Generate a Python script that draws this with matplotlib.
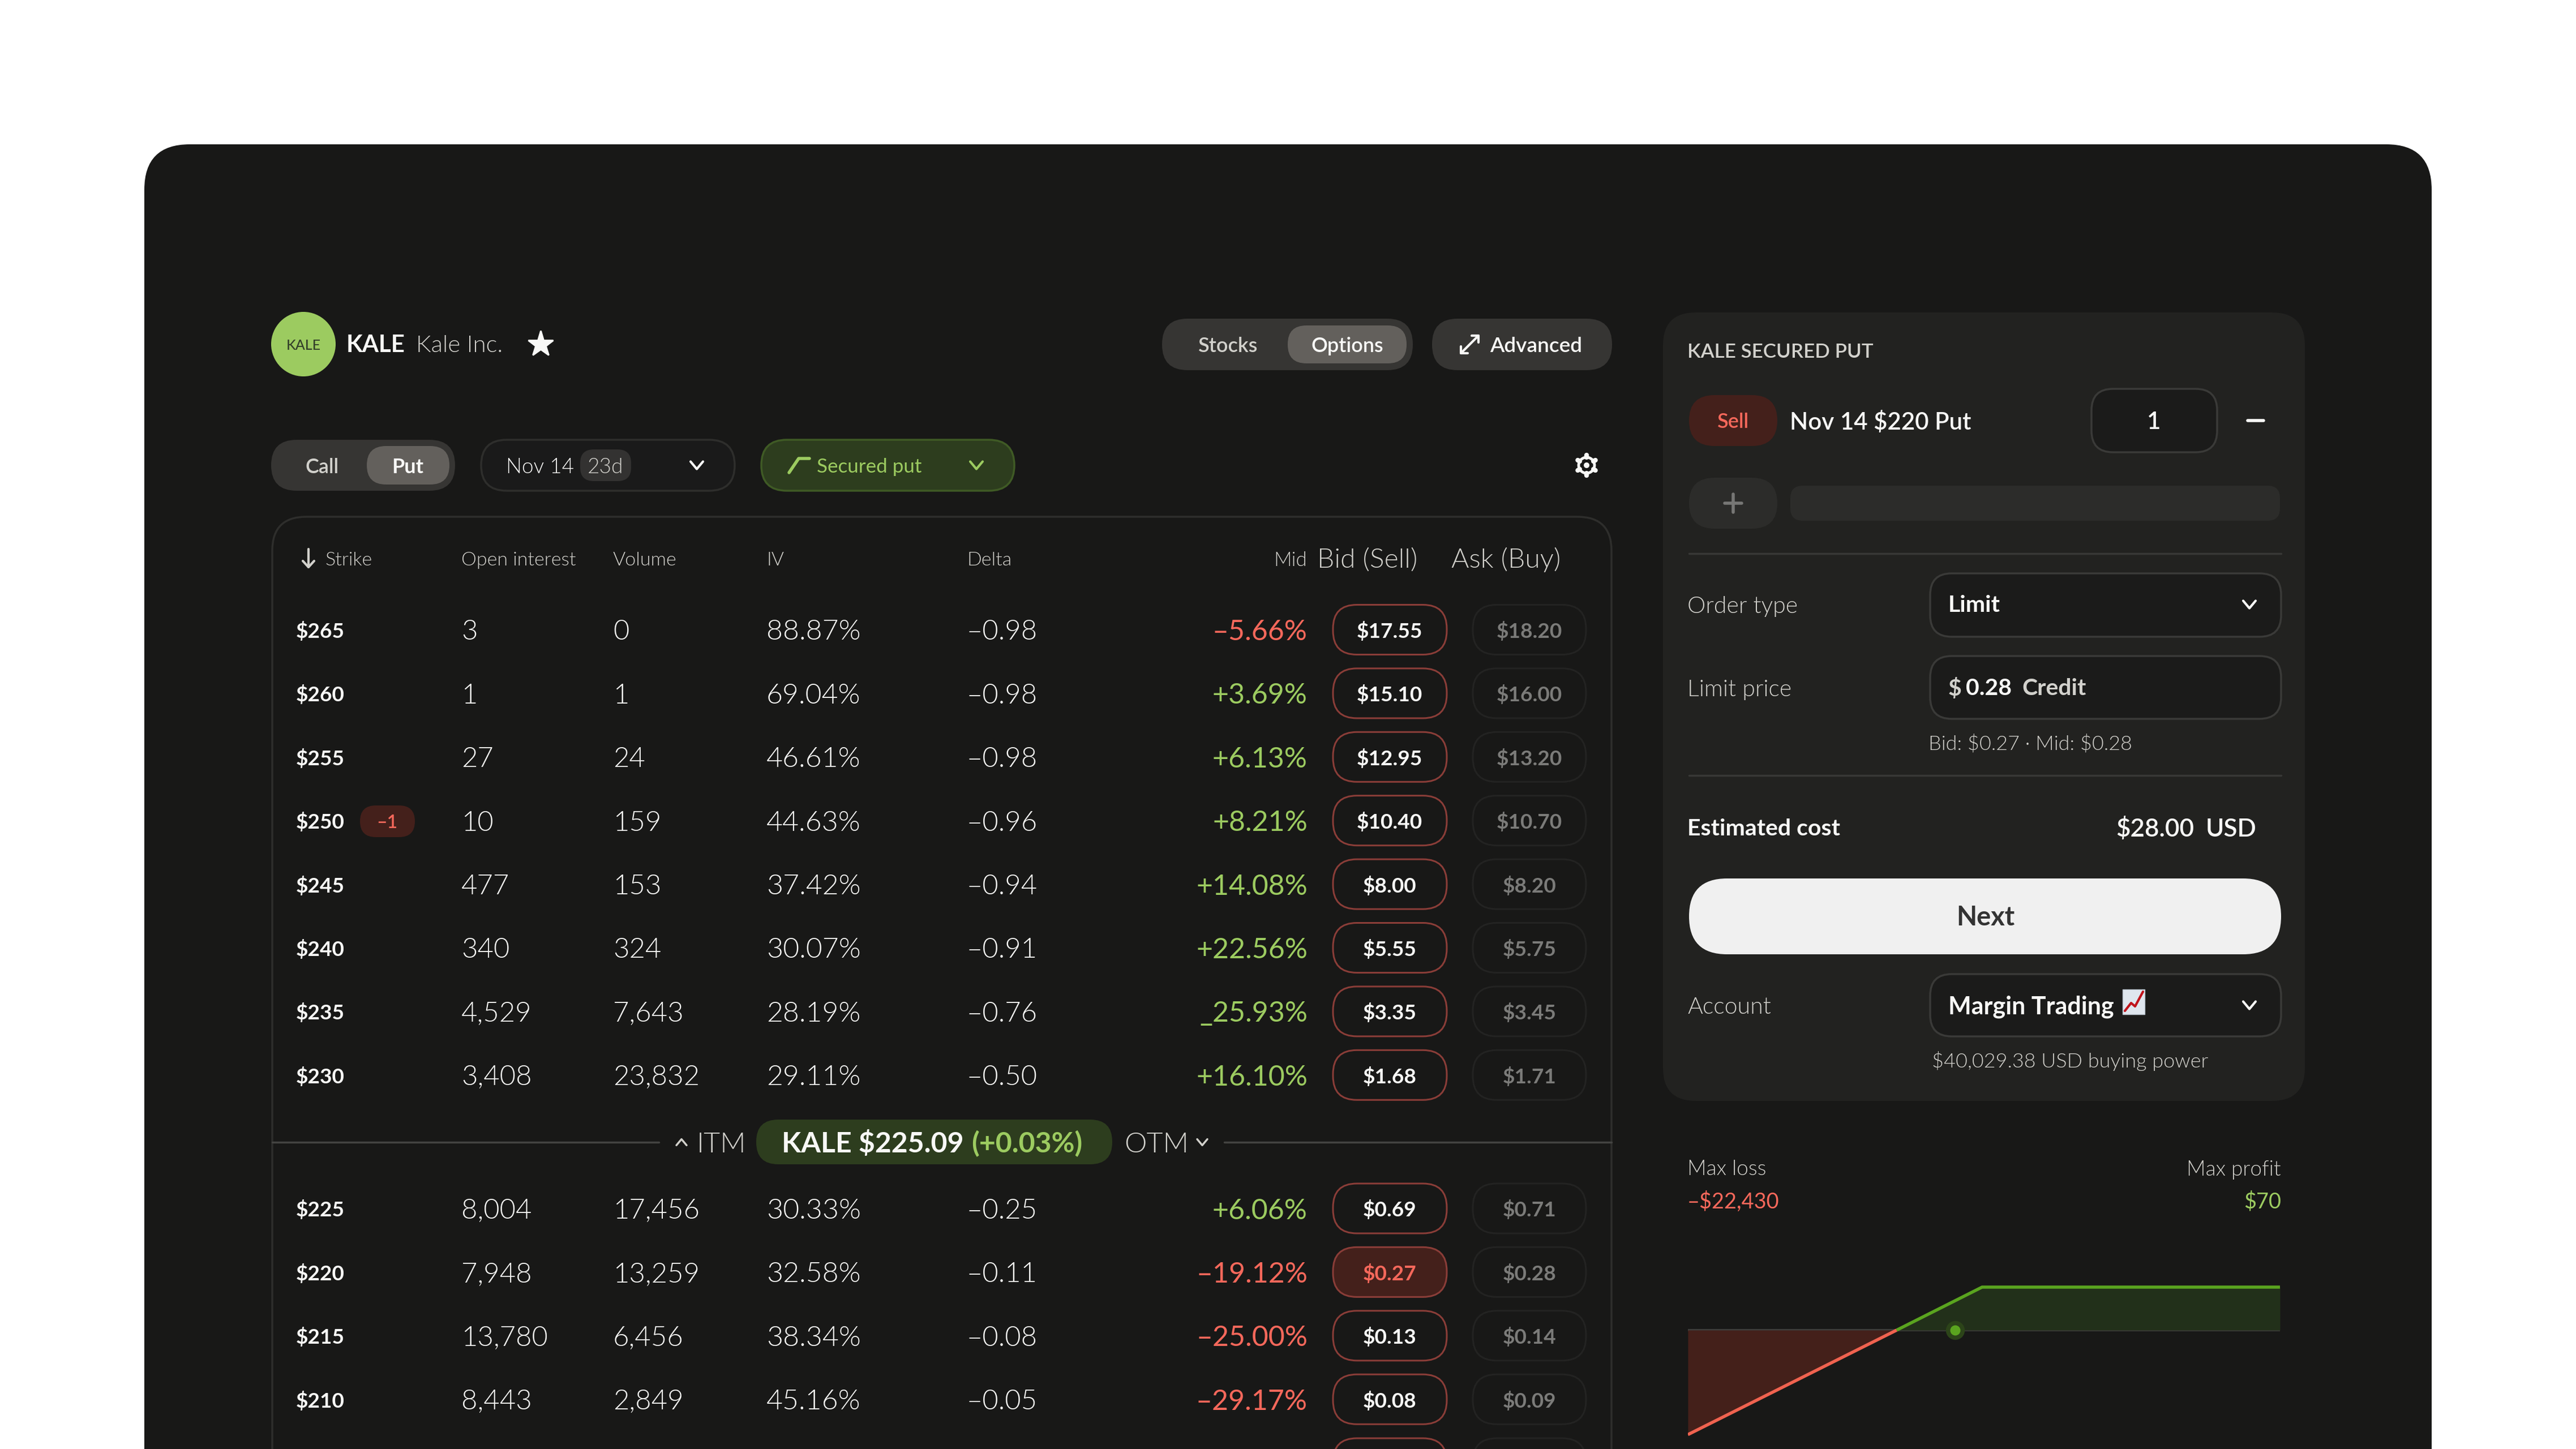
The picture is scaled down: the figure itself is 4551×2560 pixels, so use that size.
import math
import matplotlib
matplotlib.use("Agg")
import matplotlib.pyplot as plt
from matplotlib.patches import FancyBboxPatch, Circle, Rectangle

W, H, DPI = 4551, 2560, 100
FONT = "Lato"
LIGHT, REG, MED, SEMI, BOLD = 300, 400, 500, 600, 700

# ---- data ----
strikes_itm = ["$265", "$260", "$255", "$250", "$245", "$240", "$235", "$230"]
oi_itm = ["3", "1", "27", "10", "477", "340", "4,529", "3,408"]
vol_itm = ["0", "1", "24", "159", "153", "324", "7,643", "23,832"]
iv_itm = ["88.87%", "69.04%", "46.61%", "44.63%", "37.42%", "30.07%", "28.19%", "29.11%"]
delta_itm = ["–0.98", "–0.98", "–0.98", "–0.96", "–0.94", "–0.91", "–0.76", "–0.50"]
mid_itm = ["–5.66%", "+3.69%", "+6.13%", "+8.21%", "+14.08%", "+22.56%", "_25.93%", "+16.10%"]
bid_itm = ["$17.55", "$15.10", "$12.95", "$10.40", "$8.00", "$5.55", "$3.35", "$1.68"]
ask_itm = ["$18.20", "$16.00", "$13.20", "$10.70", "$8.20", "$5.75", "$3.45", "$1.71"]

strikes_otm = ["$225", "$220", "$215", "$210"]
oi_otm = ["8,004", "7,948", "13,780", "8,443"]
vol_otm = ["17,456", "13,259", "6,456", "2,849"]
iv_otm = ["30.33%", "32.58%", "38.34%", "45.16%"]
delta_otm = ["–0.25", "–0.11", "–0.08", "–0.05"]
mid_otm = ["+6.06%", "–19.12%", "–25.00%", "–29.17%"]
bid_otm = ["$0.69", "$0.27", "$0.13", "$0.08"]
ask_otm = ["$0.71", "$0.28", "$0.14", "$0.09"]

payoff_price = [217.59, 219.30, 220.00, 222.44]
payoff_pl = [-170, 0, 70, 70]
marker_price = 219.78

# ---- colours ----
BG = "#181817"; PANEL = "#222220"; PILL = "#363533"; INNER = "#63605c"
BORDER = "#2e2e2c"; FIELD = "#1b1b1a"; GREEN = "#9ccb60"; RED = "#f6685b"
GBG = "#2d3d1e"; RBG = "#44201b"; WHITE = "#f8f8f6"; MUTED = "#d2d1cc"; ASK = "#7b7b79"

fig = plt.figure(figsize=(W / DPI, H / DPI), dpi=DPI, facecolor="white")
ax = fig.add_axes([0, 0, 1, 1])
ax.set_xlim(0, W); ax.set_ylim(H, 0); ax.axis("off")


def box(x0, y0, x1, y1, r, fc, ec="none", lw=0, z=1):
    p = FancyBboxPatch((x0 + r, y0 + r), x1 - x0 - 2 * r, y1 - y0 - 2 * r,
                       boxstyle=f"round,pad={r},rounding_size={r}",
                       fc=fc, ec=ec, lw=lw, zorder=z)
    ax.add_patch(p)
    return p


def t(x, y, s, px, c=WHITE, w=REG, ha="left", z=5):
    dx = {"left": -3, "right": 2, "center": 0}[ha]
    ax.text(x + dx, y, s, fontsize=px * 72 / DPI, color=c, fontweight=w, ha=ha,
            va="center_baseline", family=FONT, zorder=z, parse_math=False)


def pl(xs, ys, c=WHITE, lw=3, z=5):
    ax.plot(xs, ys, color=c, lw=lw, solid_capstyle="round",
            solid_joinstyle="round", zorder=z)


def chev(x, y, c=WHITE, up=False, s=11, lw=3.0):
    d = -1 if up else 1
    pl([x - s, x, x + s], [y - d * s * 0.6, y + d * s * 0.6, y - d * s * 0.6], c, lw)


# outer card
box(255, 255, 4296, 2800, 80, BG)

# header
ax.add_patch(Circle((536, 608), 57, fc="#9ccb60", ec="none", zorder=2))
t(536, 608, "KALE", 25, "#33402a", MED, "center")
t(615, 607, "KALE", 42, WHITE, BOLD)
t(738, 607, "Kale Inc.", 42, MUTED, LIGHT)
ax.plot([955], [608], marker="*", ms=34, color=WHITE, mec=WHITE, mew=2, zorder=5)

box(2053, 563, 2496, 654, 45, PILL)
box(2275, 575, 2485, 642, 33, INNER, z=2)
t(2170, 608, "Stocks", 36, MUTED, SEMI, "center")
t(2380, 608, "Options", 36, WHITE, SEMI, "center")
box(2530, 563, 2848, 654, 45, PILL)
pl([2581, 2612], [624, 593], WHITE, 3)
pl([2581, 2581, 2593], [612, 624, 624], WHITE, 3)
pl([2600, 2612, 2612], [593, 593, 605], WHITE, 3)
t(2635, 608, "Advanced", 37, WHITE, SEMI)

box(479, 777, 804, 867, 45, PILL)
box(648, 788, 794, 856, 34, INNER, z=2)
t(569, 822, "Call", 36, MUTED, SEMI, "center")
t(720, 822, "Put", 36, WHITE, BOLD, "center")

box(850, 777, 1298, 867, 45, "#1a1a1a", BORDER, 2.5)
t(897, 822, "Nov 14", 37, WHITE, LIGHT)
box(1025, 794, 1115, 850, 24, "#333231", z=2)
t(1070, 822, "23d", 37, MUTED, LIGHT, "center")
chev(1231, 822)

box(1345, 777, 1792, 867, 45, GBG, "#3f5a25", 2.5)
pl([1394, 1411, 1430], [835, 810, 810], GREEN, 4)
t(1446, 822, "Secured put", 35, GREEN, REG)
chev(1725, 822, GREEN)

hub_x, hub_y = 2803, 822
ax.add_patch(Circle((hub_x, hub_y), 14, fc="none", ec=WHITE, lw=3.5, zorder=5))
for k in range(6):
    a = math.radians(30 + 60 * k)
    pl([hub_x + 14 * math.cos(a), hub_x + 18 * math.cos(a)],
       [hub_y + 14 * math.sin(a), hub_y + 18 * math.sin(a)], WHITE, 6)
ax.add_patch(Circle((hub_x, hub_y), 5, fc=WHITE, ec="none", zorder=5))

# table
box(481, 913, 2847, 2800, 60, BG, BORDER, 2.5)
pl([545, 545], [970, 1002], MUTED, 3)
pl([535, 545, 555], [991, 1002, 991], MUTED, 3)
t(577, 987, "Strike", 34, MUTED, LIGHT)
t(818, 987, "Open interest", 34, MUTED, LIGHT)
t(1086, 987, "Volume", 34, MUTED, LIGHT)
t(1357, 987, "IV", 34, MUTED, LIGHT)
t(1711, 987, "Delta", 34, MUTED, LIGHT)
t(2307, 987, "Mid", 35, MUTED, LIGHT, "right")
t(2330, 985, "Bid (Sell)", 48, MUTED, LIGHT)
t(2567, 985, "Ask (Buy)", 48, MUTED, LIGHT)

ROW = 112.4


def draw_rows(y0, strikes, oi, vol, iv, delta, mid, bid, ask, selected=None):
    for i in range(len(strikes)):
        y = y0 + i * ROW
        t(526, y, strikes[i], 37, WHITE, BOLD)
        t(818, y, oi[i], 49, WHITE, LIGHT)
        t(1086, y, vol[i], 49, WHITE, LIGHT)
        t(1357, y, iv[i], 50, WHITE, LIGHT)
        t(1711, y, delta[i], 49, WHITE, LIGHT)
        col = RED if mid[i].startswith("–") else GREEN
        t(2308, y, mid[i], 50, col, REG, "right")
        sel = bid[i] == selected
        box(2355, y - 44, 2556, y + 44, 42, RBG if sel else BG, "#8a3d38", 2.2)
        box(2602, y - 44, 2802, y + 44, 42, BG, "#232322", 2.2)
        t(2455, y, bid[i], 37, RED if sel else WHITE, BOLD, "center")
        t(2702, y, ask[i], 37, ASK, BOLD, "center")


draw_rows(1112.5, strikes_itm, oi_itm, vol_itm, iv_itm, delta_itm, mid_itm, bid_itm, ask_itm)
draw_rows(2135, strikes_otm, oi_otm, vol_otm, iv_otm, delta_otm, mid_otm, bid_otm, ask_otm, selected="$0.27")

# rows running off the bottom edge
box(2355, 2541, 2556, 2630, 42, BG, "#8a3d38", 2.2)
box(2602, 2541, 2802, 2630, 42, BG, "#232322", 2.2)

# position badge on $250
box(636, 1423, 733, 1479, 28, RBG)
t(684, 1451, "–1", 32, RED, SEMI, "center")

# money line
pl([481, 1164], [2017.5, 2017.5], "#444442", 2.5, 3)
pl([2163, 2847], [2017.5, 2017.5], "#444442", 2.5, 3)
chev(1204, 2018, MUTED, up=True, s=9, lw=2.5)
t(1234, 2018, "ITM", 50, MUTED, LIGHT)
box(1336, 1978, 1965, 2057, 39, GBG)
t(1384, 2017, "KALE $225.09", 50, WHITE, BOLD)
t(1719, 2017, "(+0.03%)", 50, GREEN, BOLD)
t(1989, 2018, "OTM", 50, MUTED, LIGHT)
chev(2124, 2018, MUTED, s=9, lw=2.5)

# order panel
box(2938, 552, 4072, 1945, 58, PANEL)
t(2984, 619, "KALE SECURED PUT", 35, MUTED, SEMI)
box(2984, 698, 3140, 788, 45, RBG, z=2)
t(3062, 742, "Sell", 36, RED, SEMI, "center")
t(3165, 742, "Nov 14 $220 Put", 42, WHITE, SEMI)
box(3695, 687, 3917, 799, 38, FIELD, "#3a3a38", 2.5, z=2)
t(3805, 742, "1", 42, WHITE, SEMI, "center")
pl([3971, 3999], [743, 743], WHITE, 4)
box(2984, 844, 3140, 934, 45, "#2c2c2a", z=2)
pl([3047, 3077], [889, 889], "#777775", 4)
pl([3062, 3062], [873, 905], "#777775", 4)
box(3163, 858, 4028, 920, 22, "#2c2c2a", z=2)
pl([2984, 4030], [978, 978], "#383836", 2.5, 3)

t(2984, 1068, "Order type", 41, MUTED, LIGHT)
box(3410, 1013, 4030, 1125, 38, FIELD, "#3a3a38", 2.5, z=2)
t(3445, 1066, "Limit", 41, WHITE, BOLD)
chev(3974, 1068)
t(2984, 1215, "Limit price", 41, MUTED, LIGHT)
box(3410, 1159, 4030, 1270, 38, FIELD, "#3a3a38", 2.5, z=2)
t(3445, 1213, "$", 41, MUTED, BOLD)
t(3476, 1213, "0.28", 41, WHITE, BOLD)
t(3575, 1213, "Credit", 41, MUTED, BOLD)
t(3410, 1311, "Bid: $0.27 · Mid: $0.28", 36, MUTED, LIGHT)
pl([2984, 4030], [1370, 1370], "#383836", 2.5, 3)
t(2984, 1461, "Estimated cost", 41, WHITE, BOLD)
t(3741, 1461, "$28.00", 44, WHITE, SEMI)
t(3900, 1461, "USD", 44, WHITE, SEMI)
box(2984, 1552, 4030, 1686, 67, "#f0f0f0", z=2)
t(3508, 1617, "Next", 47, "#333333", BOLD, "center")
t(2984, 1776, "Account", 41, MUTED, LIGHT)
box(3410, 1721, 4030, 1831, 38, FIELD, "#3a3a38", 2.5, z=2)
t(3445, 1775, "Margin Trading", 43, WHITE, BOLD)
ax.add_patch(Rectangle((3750, 1748), 39, 44, fc="#dfe6ee", ec="#b8c2cc", lw=1, zorder=5))
pl([3754, 3765, 3772, 3786], [1786, 1772, 1778, 1752], "#c0141c", 3, 6)
chev(3974, 1776)
t(3416, 1871, "$40,029.38 USD buying power", 36, MUTED, LIGHT)

# payoff chart
t(2984, 2063, "Max loss", 37, MUTED, LIGHT)
t(2984, 2120, "–$22,430", 38, RED, REG)
t(4028, 2063, "Max profit", 37, MUTED, LIGHT, "right")
t(4028, 2120, "$70", 38, GREEN, REG, "right")

PX0, PX1, PY0, PY1 = 2982, 4028, 2260, 2540
pay = fig.add_axes([PX0 / W, 1 - PY1 / H, (PX1 - PX0) / W, (PY1 - PY0) / H])
pay.set_xlim(payoff_price[0], payoff_price[-1])
pay.set_ylim(-(PY1 - 2350) * 70 / 76, (2350 - PY0) * 70 / 76)
pay.axis("off")
pay.patch.set_alpha(0)
pay.axhline(0, color="#3d3d3b", lw=3, zorder=1)
pay.fill_between(payoff_price[:2], payoff_pl[:2], 0, color="#44201a", lw=0, zorder=2)
pay.fill_between(payoff_price[1:], payoff_pl[1:], 0, color="#22301a", lw=0, zorder=2)
pay.plot(payoff_price[:2], payoff_pl[:2], color="#f0624f", lw=4, zorder=3,
         solid_capstyle="butt")
pay.plot(payoff_price[1:], payoff_pl[1:], color="#5aa41f", lw=4, zorder=3,
         solid_capstyle="butt", solid_joinstyle="miter")
pay.plot([marker_price], [0], "o", ms=24, color="#2c4419", mec="none", zorder=4)
pay.plot([marker_price], [0], "o", ms=13, color="#5aa41f", mec="none", zorder=5)

fig.savefig("out.png", dpi=DPI, facecolor="white")
